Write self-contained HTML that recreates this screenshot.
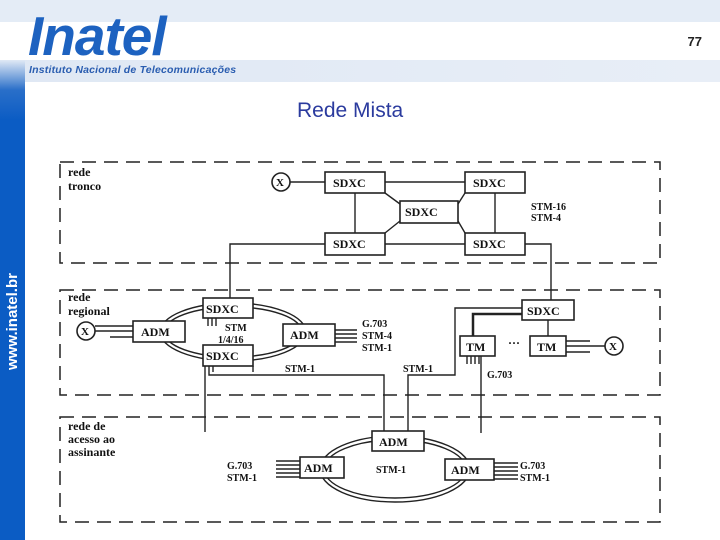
<!DOCTYPE html>
<html><head><meta charset="utf-8"><style>
body{margin:0;width:720px;height:540px;overflow:hidden;background:#fff;font-family:"Liberation Sans",sans-serif;position:relative}
</style></head><body>
<div style="position:absolute;left:0;top:0;width:720px;height:22px;background:#e4ecf6"></div>
<div style="position:absolute;left:0;top:60px;width:720px;height:22px;background:linear-gradient(90deg,#dfe8f4,#e8eef7)"></div>
<div style="position:absolute;left:0;top:60px;width:25px;height:480px;background:linear-gradient(180deg,#e0e9f5 0px,#2a6fc9 30px,#0b5cc4 60px,#0b5cc4 100%)"></div>
<div style="position:absolute;left:28px;top:4px;font:italic bold 55px 'Liberation Sans',sans-serif;color:#1d62c0;letter-spacing:-1px">Inatel</div>
<div style="position:absolute;left:29px;top:64px;font:italic bold 10.5px 'Liberation Sans',sans-serif;color:#2a5db0;letter-spacing:0.2px">Instituto Nacional de Telecomunicações</div>
<div style="position:absolute;right:18px;top:34px;font:bold 13px 'Liberation Sans',sans-serif;color:#222">77</div>
<div style="position:absolute;left:4px;top:370px;transform:rotate(-90deg);transform-origin:0 0;font:bold 15px 'Liberation Sans',sans-serif;color:#fff;width:110px">www.inatel.br</div>
<div style="position:absolute;left:297px;top:99px;font:21px 'Liberation Sans',sans-serif;color:#2b3b9e">Rede Mista</div>
<svg style="position:absolute;left:0;top:0" width="720" height="540" font-family="Liberation Serif,serif" font-weight="bold" font-size="12">
<g fill="none" stroke="#222" stroke-width="1.5" stroke-dasharray="14,8">
<rect x="60" y="162" width="600" height="101"/>
<rect x="60" y="290" width="600" height="105"/>
<rect x="60" y="417" width="600" height="105"/>
</g>
<g stroke="#222" stroke-width="1.4" fill="none">
<line x1="290" y1="182" x2="325" y2="182"/>
<line x1="385" y1="182" x2="465" y2="182"/>
<line x1="385" y1="244" x2="465" y2="244"/>
<line x1="355" y1="193" x2="355" y2="233"/>
<line x1="495" y1="193" x2="495" y2="233"/>
<line x1="385" y1="193" x2="400" y2="204"/>
<line x1="465" y1="193" x2="458" y2="204"/>
<line x1="385" y1="233" x2="400" y2="221"/>
<line x1="465" y1="233" x2="458" y2="221"/>
<polyline points="325,244 230,244 230,298"/>
<polyline points="525,244 551,244 551,300"/>
<ellipse cx="233" cy="332" rx="73" ry="29"/>
<ellipse cx="233" cy="332" rx="69" ry="25"/>
<line x1="95" y1="326" x2="133" y2="326"/><line x1="95" y1="331" x2="133" y2="331"/><line x1="110" y1="337" x2="133" y2="337"/>
<line x1="335" y1="330" x2="357" y2="330"/><line x1="335" y1="334" x2="357" y2="334"/><line x1="335" y1="338" x2="357" y2="338"/><line x1="335" y1="342" x2="357" y2="342"/>
<line x1="208" y1="318" x2="208" y2="326"/><line x1="212" y1="318" x2="212" y2="326"/><line x1="216" y1="318" x2="216" y2="326"/>
<line x1="205" y1="366" x2="205" y2="432"/>
<polyline points="209,366 209,375 384,375 384,431"/>
<line x1="213" y1="366" x2="213" y2="372"/><line x1="253" y1="366" x2="253" y2="372"/>
<polyline points="522,308 455,308 455,375 408,375 408,431"/>
<polyline points="522,314 473,314 473,336" stroke-width="2.5"/>
<line x1="548" y1="320" x2="548" y2="336"/>
<line x1="566" y1="341" x2="590" y2="341"/><line x1="566" y1="346" x2="605" y2="346"/><line x1="566" y1="352" x2="590" y2="352"/>
<line x1="467" y1="356" x2="467" y2="364"/><line x1="471" y1="356" x2="471" y2="364"/><line x1="475" y1="356" x2="475" y2="364"/><line x1="479" y1="356" x2="479" y2="364"/>
<line x1="481" y1="356" x2="481" y2="433"/>
<ellipse cx="395" cy="469" rx="75" ry="33"/>
<ellipse cx="395" cy="469" rx="71" ry="29"/>
<line x1="276" y1="461" x2="300" y2="461"/><line x1="276" y1="465" x2="300" y2="465"/><line x1="276" y1="469" x2="300" y2="469"/><line x1="276" y1="473" x2="300" y2="473"/><line x1="276" y1="477" x2="300" y2="477"/>
<line x1="494" y1="463" x2="518" y2="463"/><line x1="494" y1="467" x2="518" y2="467"/><line x1="494" y1="471" x2="518" y2="471"/><line x1="494" y1="475" x2="518" y2="475"/><line x1="494" y1="479" x2="518" y2="479"/>
</g>
<g fill="#fff" stroke="#222" stroke-width="1.6">
<rect x="325" y="172" width="60" height="21"/><rect x="465" y="172" width="60" height="21"/>
<rect x="400" y="201" width="58" height="22"/>
<rect x="325" y="233" width="60" height="22"/><rect x="465" y="233" width="60" height="22"/>
<circle cx="281" cy="182" r="9"/>
<rect x="203" y="298" width="50" height="20"/><rect x="203" y="345" width="50" height="21"/>
<rect x="133" y="321" width="52" height="21"/><rect x="283" y="324" width="52" height="22"/>
<circle cx="86" cy="331" r="9"/>
<rect x="522" y="300" width="52" height="20"/>
<rect x="460" y="336" width="35" height="20"/><rect x="530" y="336" width="36" height="20"/>
<circle cx="614" cy="346" r="9"/>
<rect x="372" y="431" width="52" height="20"/>
<rect x="300" y="457" width="44" height="21"/><rect x="445" y="459" width="49" height="21"/>
</g>
<g fill="#111">
<text x="68" y="176">rede</text><text x="68" y="190">tronco</text>
<text x="276" y="186" font-size="11">X</text>
<text x="333" y="187">SDXC</text><text x="473" y="187">SDXC</text><text x="405" y="216">SDXC</text>
<text x="333" y="248">SDXC</text><text x="473" y="248">SDXC</text>
<text x="531" y="210" font-size="10">STM-16</text><text x="531" y="221" font-size="10">STM-4</text>
<text x="68" y="301">rede</text><text x="68" y="315">regional</text>
<text x="81" y="335" font-size="11">X</text>
<text x="206" y="313">SDXC</text><text x="206" y="360">SDXC</text>
<text x="141" y="336">ADM</text><text x="290" y="339">ADM</text>
<text x="225" y="331" font-size="10">STM</text><text x="218" y="343" font-size="10">1/4/16</text>
<text x="362" y="327" font-size="10">G.703</text><text x="362" y="339" font-size="10">STM-4</text><text x="362" y="351" font-size="10">STM-1</text>
<text x="527" y="315">SDXC</text>
<text x="466" y="351">TM</text><text x="537" y="351">TM</text><text x="508" y="347">···</text>
<text x="609" y="350" font-size="11">X</text>
<text x="285" y="372" font-size="10">STM-1</text><text x="403" y="372" font-size="10">STM-1</text><text x="487" y="378" font-size="10">G.703</text>
<text x="68" y="430">rede  de</text><text x="68" y="443">acesso ao</text><text x="68" y="456">assinante</text>
<text x="379" y="446">ADM</text><text x="304" y="472">ADM</text><text x="451" y="474">ADM</text>
<text x="227" y="469" font-size="10">G.703</text><text x="227" y="481" font-size="10">STM-1</text>
<text x="376" y="473" font-size="10">STM-1</text>
<text x="520" y="469" font-size="10">G.703</text><text x="520" y="481" font-size="10">STM-1</text>
</g>
</svg>
</body></html>
